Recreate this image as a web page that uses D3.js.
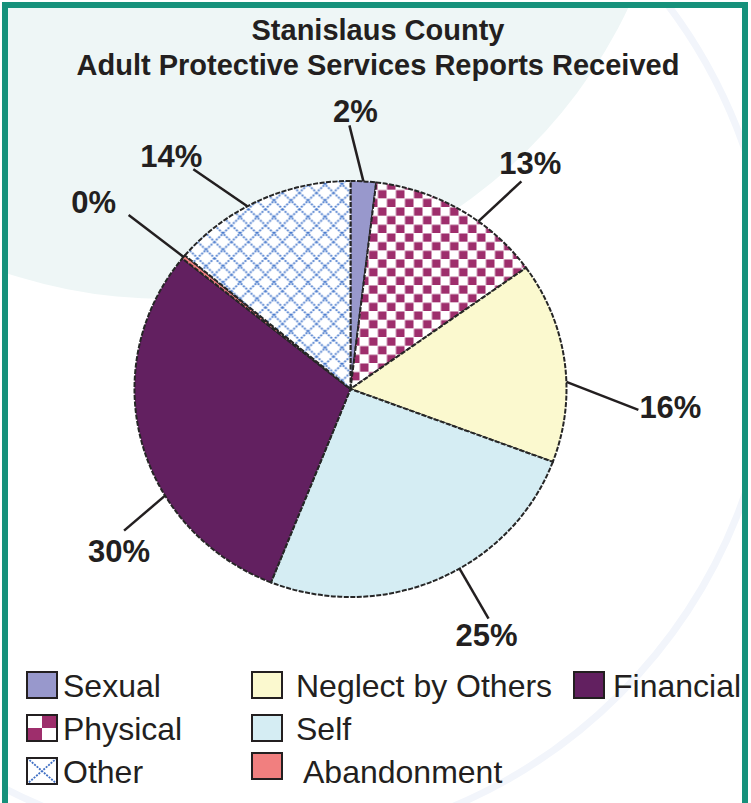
<!DOCTYPE html>
<html>
<head>
<meta charset="utf-8">
<script src="https://cdn.jsdelivr.net/npm/d3@7"></script>
<style>
  html, body { margin: 0; padding: 0; background: #fff; }
  svg { display: block; font-family: "Liberation Sans", Arial, sans-serif; }
</style>
</head>
<body>
<svg id="chart" width="751" height="803"></svg>
<script>
// categories in pie order, clockwise from 12 o'clock
const categories = ['Sexual', 'Physical', 'Neglect by Others', 'Self', 'Financial', 'Abandonment', 'Other'];
// share of reports (%)
const shares = [1.9, 13.2, 15.6, 25.3, 29.8, 0.3, 13.9];
const titleLines = ['Stanislaus County', 'Adult Protective Services Reports Received'];
// legend order (3 columns, filled top to bottom)
const legendOrder = ['Sexual', 'Physical', 'Other', 'Neglect by Others', 'Self', 'Abandonment', 'Financial'];

const width = 751, height = 803;
const cx = 350.5, cy = 389, rx = 216, ry = 208;

// where each leader line starts (fraction along the slice) and how it runs
const labelLayout = {
    'Sexual':            { t: 0.5,  dx: -14, dy: -56, tx: 6,  ty: -3, anchor: 'middle' },
    'Physical':          { t: 0.62, dx: 43,  dy: -40, tx: 9,  ty: -7, anchor: 'middle' },
    'Neglect by Others': { t: 0.6,  dx: 72,  dy: 28,  tx: 1,  ty: 8,  anchor: 'start' },
    'Self':              { t: 0.43, dx: 29,  dy: 50,  tx: -2, ty: 27, anchor: 'middle' },
    'Financial':         { t: 0.35, dx: -41, dy: 35,  tx: -5, ty: 31, anchor: 'middle' },
    'Abandonment':       { t: 0.5,  dx: -55, dy: -42, tx: -35, ty: -2, anchor: 'middle' },
    'Other':             { t: 0.43, dx: -54, dy: -37, tx: -22, ty: -2, anchor: 'middle' }
};

const fills = {
    'Sexual': '#9898cc',
    'Physical': 'url(#checker)',
    'Neglect by Others': '#fbf9cf',
    'Self': '#d5edf3',
    'Financial': '#622060',
    'Abandonment': '#f17f7f',
    'Other': 'url(#lattice)'
};

const svg = d3.select('#chart');
const defs = svg.append('defs');

// checkerboard for Physical
const checker = defs.append('pattern')
    .attr('id', 'checker')
    .attr('patternUnits', 'userSpaceOnUse')
    .attr('width', 18).attr('height', 18);
checker.append('rect').attr('width', 18).attr('height', 18).attr('fill', '#fff');
checker.append('rect').attr('x', 0.5).attr('y', 0.5).attr('width', 8.5).attr('height', 8.5).attr('fill', '#9e2e6c');
checker.append('rect').attr('x', 9.5).attr('y', 9.5).attr('width', 8.5).attr('height', 8.5).attr('fill', '#9e2e6c');

// blue diagonal lattice for Other
const lattice = defs.append('pattern')
    .attr('id', 'lattice')
    .attr('patternUnits', 'userSpaceOnUse')
    .attr('width', 17).attr('height', 17);
lattice.append('rect').attr('width', 17).attr('height', 17).attr('fill', '#fff');
lattice.append('path')
    .attr('d', 'M0,0L17,17M17,0L0,17')
    .attr('stroke', '#4678cc')
    .attr('stroke-width', 1.8)
    .attr('stroke-dasharray', '2 1.3');

// legend swatch versions
const checkerBig = defs.append('pattern')
    .attr('id', 'checkerBig')
    .attr('patternUnits', 'objectBoundingBox')
    .attr('width', 1).attr('height', 1);
checkerBig.append('rect').attr('width', 30).attr('height', 26).attr('fill', '#fff');
checkerBig.append('rect').attr('x', 15).attr('y', 0).attr('width', 15).attr('height', 13).attr('fill', '#9e2e6c');
checkerBig.append('rect').attr('x', 0).attr('y', 13).attr('width', 15).attr('height', 13).attr('fill', '#9e2e6c');

const crossBig = defs.append('pattern')
    .attr('id', 'crossBig')
    .attr('patternUnits', 'objectBoundingBox')
    .attr('width', 1).attr('height', 1);
crossBig.append('rect').attr('width', 30).attr('height', 26).attr('fill', '#fff');
crossBig.append('path')
    .attr('d', 'M0,0L30,26M30,0L0,26')
    .attr('stroke', '#3f6fc4')
    .attr('stroke-width', 1.8)
    .attr('stroke-dasharray', '2 1.2');

const legendFills = Object.assign({}, fills, {
    'Physical': 'url(#checkerBig)',
    'Other': 'url(#crossBig)'
});

defs.append('clipPath').attr('id', 'frameClip')
    .append('rect').attr('x', 5).attr('y', 5).attr('width', 743).attr('height', 810);

// background decoration
const bg = svg.append('g').attr('clip-path', 'url(#frameClip)');
bg.append('rect').attr('width', width).attr('height', height).attr('fill', '#fff');
bg.append('circle')
    .attr('cx', 167).attr('cy', -212).attr('r', 511)
    .attr('fill', '#eef6f6');
bg.append('circle')
    .attr('cx', 248).attr('cy', 322).attr('r', 526)
    .attr('fill', 'none')
    .attr('stroke', '#f2f5fb')
    .attr('stroke-width', 7);

// frame
svg.append('rect')
    .attr('x', 5).attr('y', 5)
    .attr('width', 740).attr('height', 812)
    .attr('fill', 'none')
    .attr('stroke', '#16917b')
    .attr('stroke-width', 6);

// title
svg.append('g').selectAll('text')
    .data(titleLines)
    .enter().append('text')
    .attr('x', 378)
    .attr('y', (d, i) => 40 + i * 35)
    .attr('text-anchor', 'middle')
    .attr('font-size', 29)
    .attr('font-weight', 'bold')
    .attr('fill', '#231f20')
    .text(d => d);

// pie
const data = categories.map((c, i) => ({ name: c, value: shares[i] }));
const pie = d3.pie().sort(null).value(d => d.value);
const arcs = pie(data);
const arc = d3.arc().innerRadius(0).outerRadius(rx);

svg.append('g')
    .attr('transform', `translate(${cx},${cy}) scale(1,${ry / rx})`)
    .selectAll('path')
    .data(arcs)
    .enter().append('path')
    .attr('d', arc)
    .attr('fill', d => fills[d.data.name])
    .attr('stroke', '#262626')
    .attr('stroke-width', 2)
    .attr('stroke-dasharray', '5 1.5')
    .attr('vector-effect', 'non-scaling-stroke');

// labels with leader lines
function edgePoint(a) {
    return [cx + rx * Math.sin(a), cy - ry * Math.cos(a)];
}

const labels = svg.append('g');
arcs.forEach(d => {
    const L = labelLayout[d.data.name];
    const a = d.startAngle + (d.endAngle - d.startAngle) * L.t;
    const p0 = edgePoint(a);
    const p1 = [p0[0] + L.dx, p0[1] + L.dy];
    labels.append('line')
        .attr('x1', p0[0]).attr('y1', p0[1])
        .attr('x2', p1[0]).attr('y2', p1[1])
        .attr('stroke', '#231f20')
        .attr('stroke-width', 2.5);
    labels.append('text')
        .attr('x', p1[0] + L.tx)
        .attr('y', p1[1] + L.ty)
        .attr('text-anchor', L.anchor)
        .attr('font-size', 31)
        .attr('font-weight', 'bold')
        .attr('fill', '#231f20')
        .text(Math.round(d.data.value) + '%');
});

// legend
const colX = [27, 252, 574];
const colTextGap = [36, 44, 39];
const rowY = d3.scaleLinear().domain([0, 1]).range([697, 740]);

const legend = svg.append('g');
legendOrder.forEach((name, i) => {
    const col = Math.floor(i / 3), row = i % 3;
    const x = colX[col], y = rowY(row);
    const isAband = name === 'Abandonment';
    const sy = isAband ? y - 30 : y - 25;
    legend.append('rect')
        .attr('x', x).attr('y', sy)
        .attr('width', 30).attr('height', 26)
        .attr('fill', legendFills[name])
        .attr('stroke', '#231f20')
        .attr('stroke-width', 2);
    legend.append('text')
        .attr('x', x + (isAband ? 51 : colTextGap[col]))
        .attr('y', y)
        .attr('font-size', 32)
        .attr('fill', '#231f20')
        .text(name);
});
</script>
</body>
</html>
